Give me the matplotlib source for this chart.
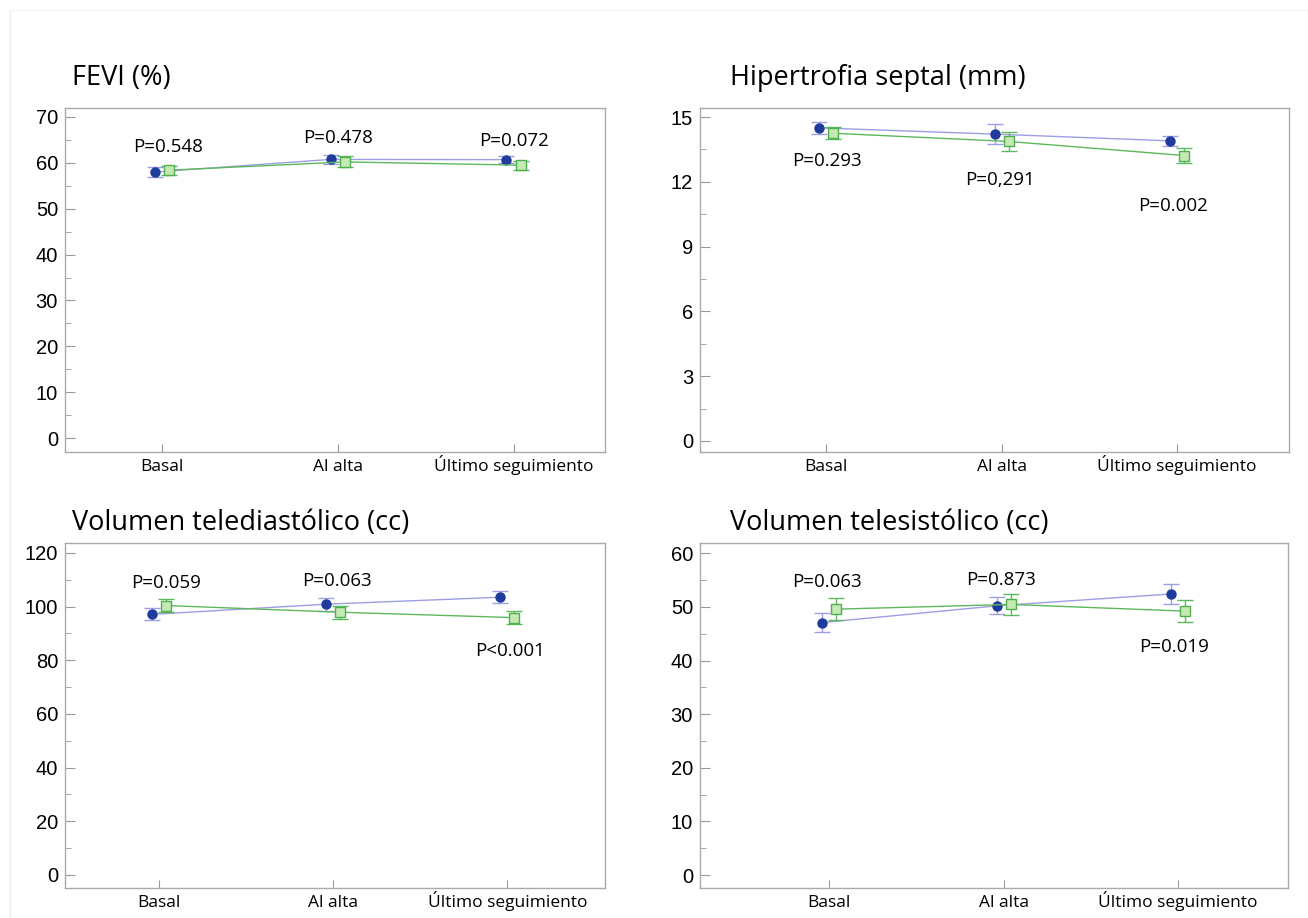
import matplotlib
matplotlib.use("Agg")
import matplotlib.pyplot as plt
from matplotlib.ticker import MultipleLocator

W, H = 1308, 918
categories = ["Basal", "Al alta", "Último seguimiento"]

titles = ["FEVI (%)", "Hipertrofia septal (mm)",
          "Volumen telediastólico (cc)", "Volumen telesistólico (cc)"]

fevi_a = [58.0, 60.75, 60.7]
fevi_a_err = [1.1, 0.9, 0.8]
fevi_b = [58.4, 60.2, 59.5]
fevi_b_err = [1.0, 1.2, 1.0]
fevi_p = ["P=0.548", "P=0.478", "P=0.072"]

sept_a = [14.5, 14.21, 13.9]
sept_a_err = [0.27, 0.45, 0.24]
sept_b = [14.25, 13.87, 13.22]
sept_b_err = [0.27, 0.43, 0.36]
sept_p = ["P=0.293", "P=0,291", "P=0.002"]

vtd_a = [97.1, 100.9, 103.5]
vtd_a_err = [2.2, 2.4, 2.2]
vtd_b = [100.4, 97.9, 95.9]
vtd_b_err = [2.4, 2.5, 2.4]
vtd_p = ["P=0.059", "P=0.063", "P<0.001"]

vts_a = [47.07, 50.19, 52.4]
vts_a_err = [1.7, 1.6, 1.9]
vts_b = [49.57, 50.45, 49.2]
vts_b_err = [2.1, 2.0, 2.1]
vts_p = ["P=0.063", "P=0.873", "P=0.019"]

fig = plt.figure(figsize=(W / 100, H / 100), dpi=100)
fig.patch.set_facecolor("white")

def add_ax(x0, y0, x1, y1):
    return fig.add_axes([x0 / W, 1 - y1 / H, (x1 - x0) / W, (y1 - y0) / H])

BLUE_LINE = "#9e9ee6"
BLUE_MK = "#1f3c9c"
GREEN_LINE = "#5cb85c"
GREEN_FACE = "#c6e9b4"
GREEN_EDGE = "#4fae4f"

panels = [
    dict(box=(65, 108, 605, 452), xlim=(-0.55, 2.52), ylim=(-3.05, 71.96),
         major=10, minor=5, a=fevi_a, ae=fevi_a_err, b=fevi_b, be=fevi_b_err,
         p=fevi_p, py=[147, 138, 141], title=(72, 78), px=[168, 338, 514]),
    dict(box=(700, 108, 1289, 452), xlim=(-0.72, 2.64), ylim=(-0.51, 15.42),
         major=3, minor=1.5, a=sept_a, ae=sept_a_err, b=sept_b, be=sept_b_err,
         p=sept_p, py=[161, 180, 206], title=(730, 78), px=[827, 1000, 1173]),
    dict(box=(65, 543, 605, 888), xlim=(-0.54, 2.56), ylim=(-4.85, 123.7),
         major=20, minor=10, a=vtd_a, ae=vtd_a_err, b=vtd_b, be=vtd_b_err,
         p=vtd_p, py=[583, 581, 651], title=(72, 523), px=[166, 337, 510]),
    dict(box=(700, 543, 1288, 888), xlim=(-0.74, 2.63), ylim=(-2.4, 61.9),
         major=10, minor=5, a=vts_a, ae=vts_a_err, b=vts_b, be=vts_b_err,
         p=vts_p, py=[582, 580, 647], title=(730, 523), px=[827, 1001, 1174]),
]

xs = list(range(len(categories)))
off = 0.04

for i, pn in enumerate(panels):
    x0, y0, x1, y1 = pn["box"]
    ax = add_ax(x0, y0, x1, y1)
    ax.set_xlim(*pn["xlim"])
    ax.set_ylim(*pn["ylim"])
    xa = [x - off for x in xs]
    xb = [x + off for x in xs]
    ax.errorbar(xa, pn["a"], yerr=pn["ae"], color=BLUE_LINE, lw=1.0,
                elinewidth=1.0, capsize=5.5, capthick=1.0, marker="o",
                ms=6.5, mfc=BLUE_MK, mec=BLUE_MK, zorder=3)
    ax.errorbar(xb, pn["b"], yerr=pn["be"], color=GREEN_LINE, lw=1.0,
                elinewidth=1.0, capsize=5.5, capthick=1.0, marker="s",
                ms=7, mfc=GREEN_FACE, mec=GREEN_EDGE, mew=1.0, zorder=4)
    ax.set_xticks(xs)
    ax.set_xticklabels(categories, fontfamily="Open Sans", fontsize=12.5,
                       va="baseline")
    ax.yaxis.set_major_locator(MultipleLocator(pn["major"]))
    ax.yaxis.set_minor_locator(MultipleLocator(pn["minor"]))
    ax.tick_params(axis="y", which="major", direction="in", length=7,
                   color="#999999", labelsize=14.5, pad=5)
    ax.tick_params(axis="y", which="minor", direction="in", length=4,
                   color="#999999")
    ax.tick_params(axis="x", which="major", direction="in", length=6,
                   color="#999999", pad=13.5)
    for lab in ax.get_yticklabels():
        lab.set_fontfamily("Liberation Sans")
    for s in ax.spines.values():
        s.set_color("#aaaaaa")
        s.set_linewidth(1.0)
    for j, txt in enumerate(pn["p"]):
        fig.text(pn["px"][j] / W, 1 - pn["py"][j] / H, txt, ha="center",
                 va="center", fontsize=13.5, fontfamily="Open Sans")
    tx, ty = pn["title"]
    fig.text(tx / W, 1 - ty / H, titles[i], ha="left",
             va="center", fontsize=19.5, fontfamily="Open Sans")

fig.add_artist(plt.Line2D([10 / W, 10 / W], [0, 1 - 10 / H],
                          transform=fig.transFigure, color="#eeeeee", lw=1))
fig.add_artist(plt.Line2D([10 / W, 1], [1 - 10 / H, 1 - 10 / H],
                          transform=fig.transFigure, color="#f4f4f4", lw=1))

fig.savefig("out.png", dpi=100, facecolor="white")
